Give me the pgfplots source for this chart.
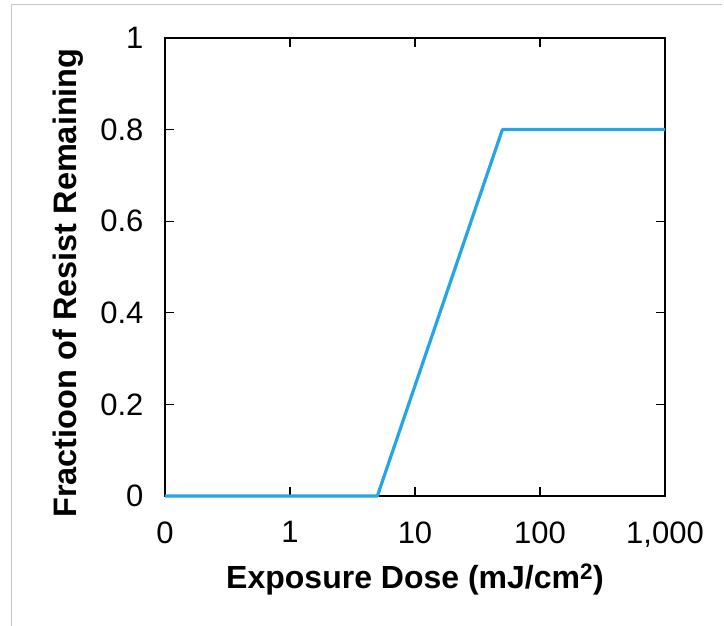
\documentclass[border=0pt]{standalone}
\usepackage{fontspec}
\setmainfont{Liberation Sans}
\usepackage{pgfplots}
\pgfplotsset{compat=1.18}
\definecolor{curve}{RGB}{36,166,228}
\begin{document}
\begin{tikzpicture}
\begin{axis}[name=ax, scale only axis, width=500pt, height=458pt,
  xmin=-1, xmax=3, ymin=0, ymax=1,
  xtick={-1,0,1,2,3}, xticklabels={0,1,10,100,{1,000}},
  ytick={0,0.2,0.4,0.6,0.8,1}, yticklabels={0,0.2,0.4,0.6,0.8,1},
  tick align=inside, major tick length=9pt,
  axis line style={line width=2.3pt},
  every tick/.style={line width=1.3pt, black},
  ticklabel style={font=\fontsize{31}{37}\selectfont},
  xticklabel style={yshift=-22pt},
  yticklabel style={xshift=-18pt},
  xlabel={\textbf{Exposure Dose (mJ/cm\textsuperscript{2})}},
  ylabel={\textbf{Fractioon of Resist Remaining}},
  every axis x label/.style={at={(axis description cs:0.5,0)}, anchor=base, yshift=-93pt, font=\fontsize{32}{38}\selectfont},
  every axis y label/.style={at={(axis description cs:-0.178,0.465)}, anchor=base, rotate=90, font=\fontsize{32.5}{38}\selectfont},
  clip=false,
]
\addplot[curve, line width=3.2pt, line join=round] coordinates {(-1,0) (0.699,0) (1.699,0.8) (3,0.8)};
\end{axis}
\draw[gray!45, line width=1pt] ([shift={(-153pt,-150pt)}]ax.south west) -- ([shift={(-153pt,491pt)}]ax.south west) -- ([shift={(557pt,491pt)}]ax.south west);
\pgfresetboundingbox
\path[use as bounding box] ([shift={(-165pt,-130pt)}]ax.south west) rectangle ([shift={(559pt,496pt)}]ax.south west);
\end{tikzpicture}
\end{document}
